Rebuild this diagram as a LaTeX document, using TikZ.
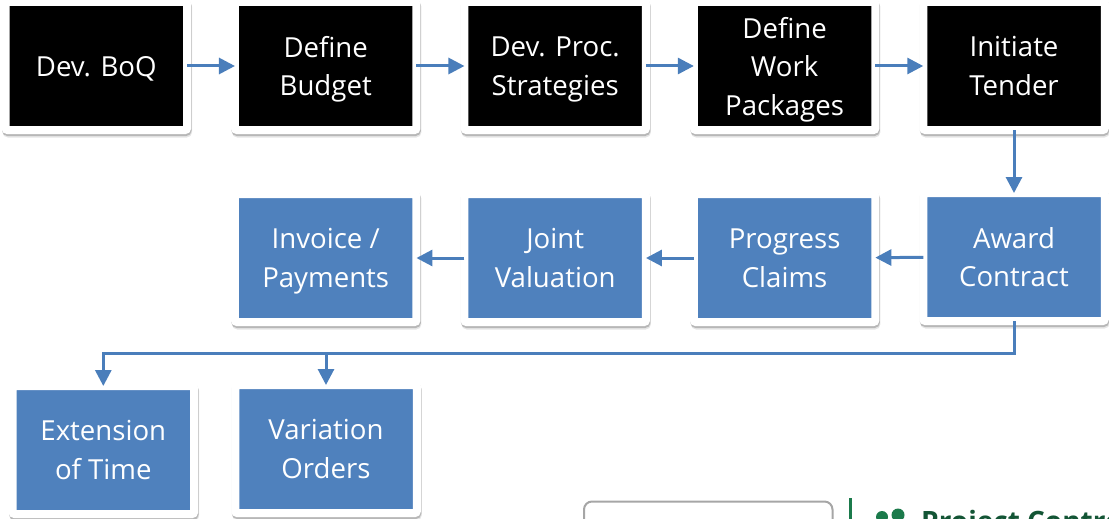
\documentclass[tikz,border=0pt]{standalone}
\usepackage{fontspec}
\setmainfont{Open Sans}
\usetikzlibrary{arrows.meta,shadows}

\definecolor{tileblue}{HTML}{4F81BD}
\definecolor{linkblue}{HTML}{4A7EBB}
\definecolor{logogreen}{HTML}{1B7A4B}

\tikzset{
    tile/.style={rectangle, draw=white, line width=8pt, rounded corners=2pt, outer sep=0pt, inner sep=0pt,
        minimum width=181.5pt, minimum height=128pt, align=center, text=white,
        font=\fontsize{27.6}{38.5}\selectfont, text depth=-5pt,
        drop shadow={shadow xshift=1pt, shadow yshift=-3.5pt, draw=black, fill=black, line width=8pt, opacity=.10},
        drop shadow={shadow xshift=0.5pt, shadow yshift=-2pt, draw=black, fill=black, line width=8pt, opacity=.20}},
    darktile/.style={tile, fill=black},
    bluetile/.style={tile, fill=tileblue},
    link/.style={draw=linkblue, line width=3pt, -{Triangle[width=16pt,length=16pt]}},
}

\begin{document}
\begin{tikzpicture}[x=1pt, y=-1pt]
            \path[use as bounding box, clip] (0,0) rectangle (1109,519);

            % first row
            \node[darktile] (boq) at (96.3,66) {Dev. BoQ};
            \node[darktile] (budget) at (325.7,66) {Define\\Budget};
            \node[darktile] (strategies) at (555.2,66) {Dev. Proc.\\Strategies};
            \node[darktile] (packages) at (784.6,66) {Define\\Work\\Packages};
            \node[darktile] (tender) at (1014,66) {Initiate\\Tender};

            % second row
            \node[bluetile] (award) at (1014,257) {Award\\Contract};
            \node[bluetile] (claims) at (784.6,258) {Progress\\Claims};
            \node[bluetile] (valuation) at (555.2,258) {Joint\\Valuation};
            \node[bluetile] (payments) at (325.7,258) {Invoice /\\Payments};

            % third row
            \node[bluetile] (extension) at (103.3,450) {Extension\\of Time};
            \node[bluetile] (variation) at (326,449) {Variation\\Orders};

            % connectors
            \draw[link] (boq) -- (budget);
            \draw[link] (budget) -- (strategies);
            \draw[link] (strategies) -- (packages);
            \draw[link] (packages) -- (tender);
            \draw[link] (tender) -- (award);
            \draw[link] (award) -- (claims);
            \draw[link] (claims) -- (valuation);
            \draw[link] (valuation) -- (payments);

            \coordinate (bus) at (0,353);
            \draw[link] (award.south) |- (bus -| extension.north) -- (extension.north);
            \draw[link] (bus -| variation.north) -- (variation.north);

            % cut off at the lower edge
            \draw[draw=black!35, line width=2pt, rounded corners=8pt] (584,530) -- (584,501.5) -- (832.5,501.5) -- (832.5,530);
            \draw[draw=logogreen, line width=3pt] (850,498) -- (850,530);
            \fill[logogreen] (882,517) circle (6pt);
            \fill[logogreen] (898,515) circle (6.5pt);
            \node[anchor=base west, inner sep=0pt, text=logogreen!70!black, font=\fontsize{28}{34}\selectfont\bfseries] (logotext) at (921,531.5) {Project Controls};

        \end{tikzpicture}
\end{document}
